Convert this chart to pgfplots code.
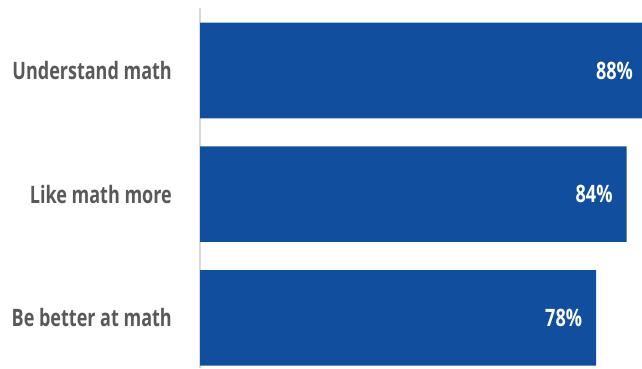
\documentclass[border=0pt]{standalone}
\usepackage{fontspec}
\setmainfont{Open Sans}[FakeStretch=0.75]
\usepackage{pgfplots}
\pgfplotsset{compat=1.18}
\definecolor{barblue}{HTML}{114E9E}
\definecolor{labgray}{HTML}{595959}
\definecolor{axgray}{HTML}{D9D9D9}
\begin{document}
\begin{tikzpicture}
\useasboundingbox (0pt,0pt) rectangle (642pt,368pt);
\begin{axis}[
  at={(200pt,0pt)}, anchor=south west,
  scale only axis, width=447pt, height=360pt,
  xbar, bar width=95.6pt,
  xmin=0, xmax=88.0,
  ymin=-0.4054, ymax=2.5053,
  axis x line=none,
  axis y line=left,
  axis line style={-},
  y axis line style={draw=axgray, line width=1.3pt},
  xtick=\empty,
  ytick={0,1,2},
  yticklabels={Be better at math, Like math more, Understand math},
  major tick length=0pt,
  yticklabel style={font=\fontsize{24}{28}\selectfont\bfseries, text=labgray, anchor=east, inner sep=0pt, xshift=-28pt},
  /pgf/number format/assume math mode=true,
  nodes near coords={\pgfmathprintnumber{\pgfplotspointmeta}\%},
  point meta=x,
  every node near coord/.append style={anchor=east, xshift=-14pt, inner sep=0pt, text=white, font=\fontsize{24}{28}\selectfont\bfseries},
  clip=true,
]
\addplot[draw=none, fill=barblue] coordinates {(78,0) (84,1) (88,2)};
\end{axis}
\end{tikzpicture}
\end{document}
